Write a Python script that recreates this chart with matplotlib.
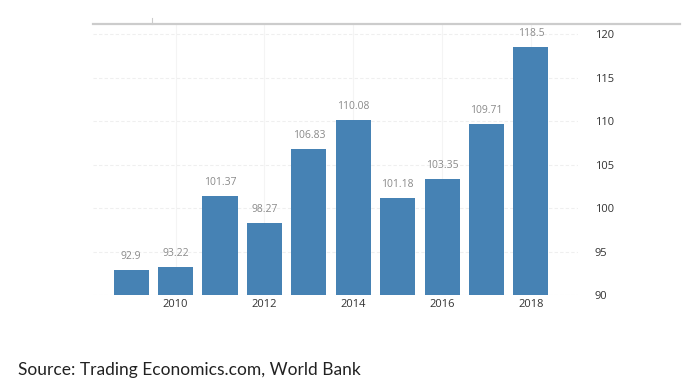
import matplotlib
matplotlib.use("Agg")
import matplotlib.pyplot as plt
from matplotlib.lines import Line2D

years = [2009, 2010, 2011, 2012, 2013, 2014, 2015, 2016, 2017, 2018]
values = [92.9, 93.22, 101.37, 98.27, 106.83, 110.08, 101.18, 103.35, 109.71, 118.5]
value_labels = ["92.9", "93.22", "101.37", "98.27", "106.83", "110.08", "101.18", "103.35", "109.71", "118.5"]
xticks = [2010, 2012, 2014, 2016, 2018]
yticks = [90, 95, 100, 105, 110, 115, 120]

W, H = 700, 391
fig = plt.figure(figsize=(7, 3.91), dpi=100)
fig.patch.set_facecolor("white")

ax_l, ax_r, ax_t, ax_b = 93, 578, 24, 295
ax = fig.add_axes([ax_l / W, 1 - ax_b / H, (ax_r - ax_l) / W, (ax_b - ax_t) / H])
ax.bar(years, values, width=0.79, color="#4682b4", bottom=0, zorder=3)
ax.set_ylim(90, 121.15)
ax.set_xlim(2008.14, 2019.06)

for x, v, lab in zip(years, values, value_labels):
    ax.text(x, v + 0.9, lab, ha="center", va="bottom", fontsize=7.5,
            family="Open Sans", color="#8a8a8a", zorder=4)

ax.yaxis.tick_right()
ax.set_yticks(yticks)
ax.set_yticklabels([str(t) for t in yticks], fontsize=8, family="Open Sans", color="#333333")
ax.set_xticks(xticks)
ax.set_xticklabels([str(t) for t in xticks], fontsize=8, family="Open Sans", color="#333333")
ax.tick_params(axis="both", length=0, pad=3)
ax.tick_params(axis="y", pad=12)

ax.grid(True, axis="y", color="#efefef", linewidth=0.8, linestyle=(0, (3, 2)), zorder=0)
ax.grid(True, axis="x", color="#f4f4f4", linewidth=0.8, linestyle="-", zorder=0)
for s in ax.spines.values():
    s.set_visible(False)

# top rule line and small tick
fig.add_artist(Line2D([ax_l / W, 680 / W], [1 - 24 / H, 1 - 24 / H], color="#cccccc", linewidth=1.6))
fig.add_artist(Line2D([152 / W, 152 / W], [1 - 18 / H, 1 - 24 / H], color="#cccccc", linewidth=0.8))

fig.text(18 / W, 1 - 370 / H, "Source: Trading Economics.com, World Bank",
         fontsize=12.5, family="Lato", color="#222222", va="center", ha="left")

fig.savefig("out.png", dpi=100, facecolor="white")
